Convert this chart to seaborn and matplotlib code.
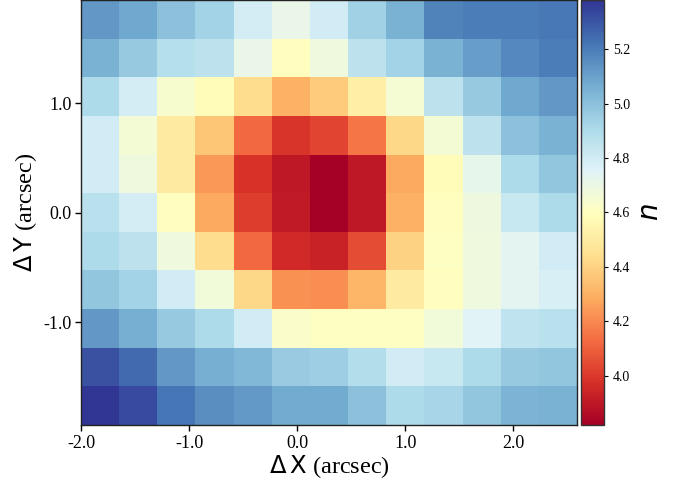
import numpy as np
import pandas as pd
import seaborn as sns
import matplotlib.pyplot as plt

# Sersic index map, rows from top (north) to bottom
n_map = [
    [5.13, 5.08, 5.00, 4.93, 4.79, 4.71, 4.80, 4.94, 5.05, 5.18, 5.20, 5.20, 5.21],
    [5.05, 4.97, 4.88, 4.86, 4.71, 4.60, 4.68, 4.86, 4.93, 5.05, 5.11, 5.17, 5.20],
    [4.90, 4.79, 4.64, 4.58, 4.44, 4.30, 4.38, 4.52, 4.65, 4.86, 4.97, 5.08, 5.13],
    [4.80, 4.66, 4.50, 4.36, 4.12, 3.99, 4.03, 4.15, 4.42, 4.66, 4.86, 5.00, 5.05],
    [4.80, 4.68, 4.50, 4.24, 3.98, 3.90, 3.82, 3.90, 4.28, 4.58, 4.72, 4.90, 4.98],
    [4.87, 4.79, 4.60, 4.28, 4.01, 3.91, 3.82, 3.90, 4.30, 4.60, 4.69, 4.83, 4.90],
    [4.90, 4.86, 4.68, 4.44, 4.12, 3.96, 3.93, 4.05, 4.40, 4.61, 4.68, 4.74, 4.80],
    [4.98, 4.93, 4.80, 4.67, 4.42, 4.22, 4.21, 4.31, 4.50, 4.60, 4.68, 4.74, 4.78],
    [5.13, 5.06, 4.97, 4.90, 4.80, 4.63, 4.61, 4.61, 4.61, 4.67, 4.75, 4.85, 4.87],
    [5.31, 5.25, 5.13, 5.06, 5.03, 4.96, 4.95, 4.89, 4.80, 4.83, 4.90, 4.97, 4.98],
    [5.38, 5.33, 5.22, 5.15, 5.12, 5.07, 5.07, 5.00, 4.90, 4.92, 4.98, 5.04, 5.05],
]
pix = 0.353          # arcsec per spaxel
x_start = -2.0       # left edge, arcsec
y_top = 1.943        # top edge, arcsec
x_ticks = [-2.0, -1.0, 0.0, 1.0, 2.0]
y_ticks = [1.0, 0.0, -1.0]
cb_ticks = [4.0, 4.2, 4.4, 4.6, 4.8, 5.0, 5.2]
vmin, vmax = 3.82, 5.38

df = pd.DataFrame(n_map)

plt.rcParams['font.family'] = ['Liberation Serif', 'DejaVu Serif']
plt.rcParams['mathtext.fontset'] = 'dejavusans'
plt.rcParams['axes.unicode_minus'] = False

fig = plt.figure(figsize=(6.78, 4.82), dpi=100)
ax = fig.add_axes([0.1195, 0.1183, 0.7315, 0.8817])
cax = fig.add_axes([0.857, 0.1183, 0.034, 0.8817])

sns.heatmap(df, cmap='RdYlBu', vmin=vmin, vmax=vmax, ax=ax, cbar_ax=cax,
            xticklabels=False, yticklabels=False)

ax.set_xticks([(t - x_start) / pix for t in x_ticks])
ax.set_xticklabels(['%.1f' % t for t in x_ticks], fontsize=13)
ax.set_yticks([(y_top - t) / pix for t in y_ticks])
ax.set_yticklabels(['%.1f' % t for t in y_ticks], fontsize=13, rotation=0)
ax.tick_params(direction='out', length=4, width=1, color='black', pad=3)
for s in ax.spines.values():
    s.set_visible(True)
    s.set_color('#222222')
    s.set_linewidth(1.0)
ax.set_xlabel(r'$\Delta\,\mathrm{X}$ (arcsec)', fontsize=17.5, labelpad=1)
ax.set_ylabel(r'$\Delta\,\mathrm{Y}$ (arcsec)', fontsize=17.5, labelpad=3)

cb = ax.collections[0].colorbar
cb.set_ticks(cb_ticks)
cb.set_ticklabels(['%.1f' % t for t in cb_ticks])
cb.ax.tick_params(labelsize=10, length=3, width=0.8)
cb.outline.set_visible(True)
cb.outline.set_edgecolor('#333333')
cb.outline.set_linewidth(1.0)
cb.set_label(r'$n$', fontsize=20, labelpad=6)

fig.savefig('out.png', dpi=100)
